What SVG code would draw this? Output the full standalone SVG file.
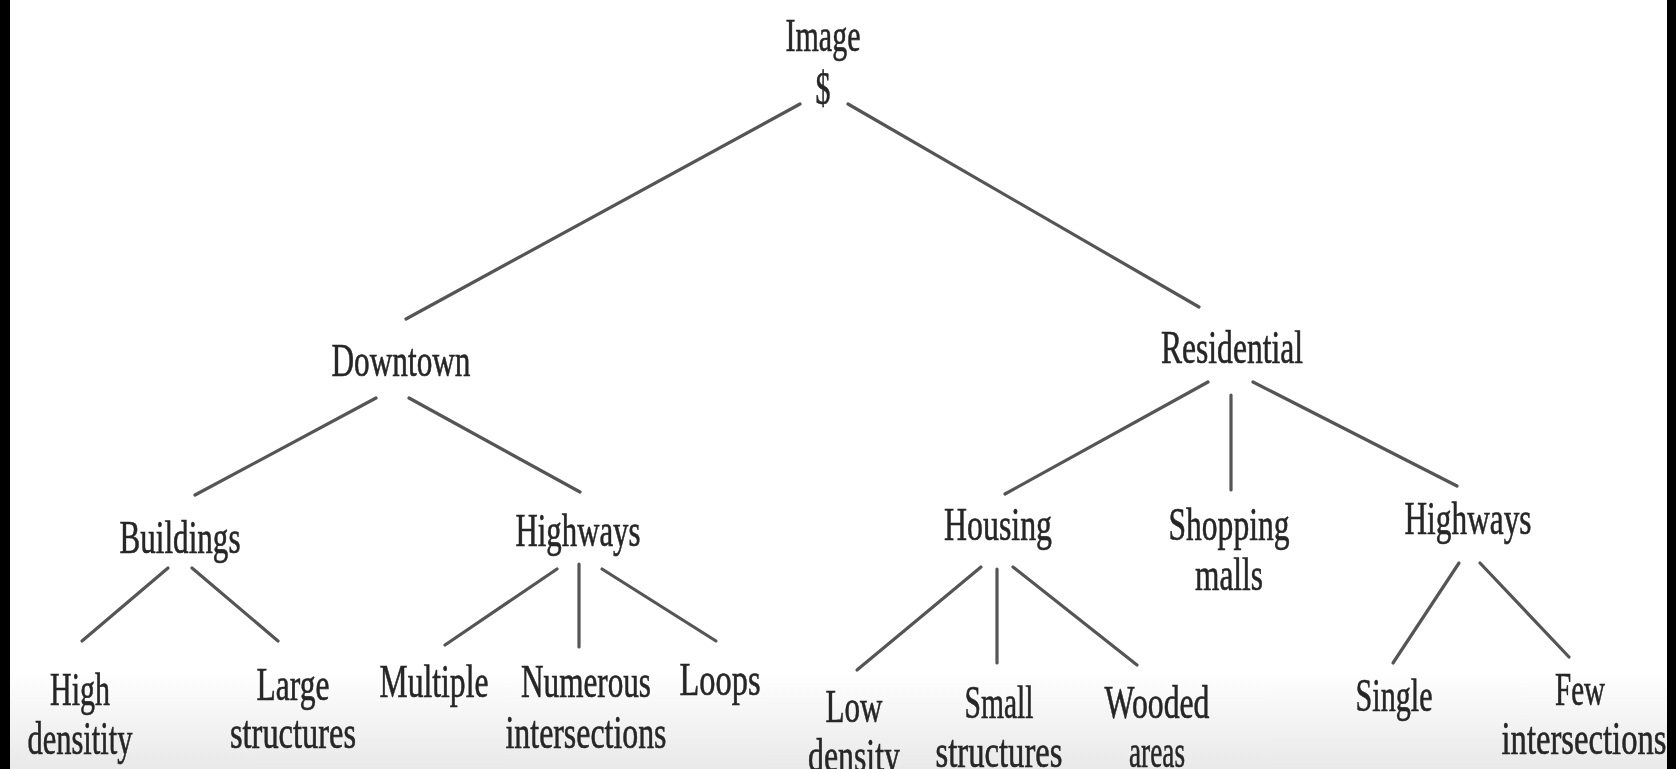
<svg xmlns="http://www.w3.org/2000/svg" width="1676" height="769" viewBox="0 0 1676 769">
<style>
.t{font-family:"Liberation Serif","Times New Roman",serif;font-size:46px;fill:#262626;stroke:#262626;stroke-width:0.6px;text-anchor:middle}
.c line{stroke:#555555;stroke-width:3.2;stroke-linecap:round}
</style>
<defs>
<linearGradient id="fade" x1="0" y1="0" x2="0" y2="1">
<stop offset="0" stop-color="#e9e9e9" stop-opacity="0"/>
<stop offset="1" stop-color="#e9e9e9" stop-opacity="1"/>
</linearGradient>
<filter id="soft" x="-5%" y="-5%" width="110%" height="110%"><feGaussianBlur stdDeviation="0.6"/></filter>
</defs>
<rect width="1676" height="769" fill="#ffffff"/>
<rect x="0" y="670" width="1676" height="99" fill="url(#fade)"/>
<g filter="url(#soft)">
<g id="connectors" class="c">
<line x1="800" y1="104" x2="406" y2="319"/>
<line x1="848" y1="104" x2="1199" y2="307"/>
<line x1="376" y1="398" x2="195" y2="495"/>
<line x1="409" y1="398" x2="580" y2="492"/>
<line x1="168" y1="568" x2="82" y2="641"/>
<line x1="192" y1="568" x2="278" y2="641"/>
<line x1="557" y1="569" x2="445" y2="645"/>
<line x1="579" y1="564" x2="579" y2="647"/>
<line x1="602" y1="569" x2="716" y2="641"/>
<line x1="1208" y1="382" x2="1005" y2="494"/>
<line x1="1231" y1="395" x2="1231" y2="490"/>
<line x1="1253" y1="382" x2="1457" y2="486"/>
<line x1="981" y1="567" x2="857" y2="670"/>
<line x1="997" y1="569" x2="997" y2="663"/>
<line x1="1013" y1="567" x2="1137" y2="665"/>
<line x1="1459" y1="563" x2="1393" y2="663"/>
<line x1="1480" y1="563" x2="1569" y2="657"/>
</g>
<g id="n-image"><text class="t" x="823" y="51" textLength="75" lengthAdjust="spacingAndGlyphs">Image</text><text class="t" x="823" y="104" textLength="15" lengthAdjust="spacingAndGlyphs">$</text></g>
<g id="n-downtown"><text class="t" x="401" y="376" textLength="139" lengthAdjust="spacingAndGlyphs">Downtown</text></g>
<g id="n-residential"><text class="t" x="1232" y="363" textLength="142" lengthAdjust="spacingAndGlyphs">Residential</text></g>
<g id="n-buildings"><text class="t" x="180" y="553" textLength="121" lengthAdjust="spacingAndGlyphs">Buildings</text></g>
<g id="n-highways-d"><text class="t" x="578" y="546" textLength="125" lengthAdjust="spacingAndGlyphs">Highways</text></g>
<g id="n-high-density"><text class="t" x="80" y="705" textLength="60" lengthAdjust="spacingAndGlyphs">High</text><text class="t" x="80" y="754" textLength="105" lengthAdjust="spacingAndGlyphs">densitity</text></g>
<g id="n-large-structures"><text class="t" x="293" y="700" textLength="73" lengthAdjust="spacingAndGlyphs">Large</text><text class="t" x="293" y="748" textLength="126" lengthAdjust="spacingAndGlyphs">structures</text></g>
<g id="n-multiple"><text class="t" x="434" y="697" textLength="109" lengthAdjust="spacingAndGlyphs">Multiple</text></g>
<g id="n-numerous"><text class="t" x="586" y="697" textLength="130" lengthAdjust="spacingAndGlyphs">Numerous</text><text class="t" x="586" y="748" textLength="161" lengthAdjust="spacingAndGlyphs">intersections</text></g>
<g id="n-loops"><text class="t" x="720" y="695" textLength="81" lengthAdjust="spacingAndGlyphs">Loops</text></g>
<g id="n-housing"><text class="t" x="998" y="540" textLength="108" lengthAdjust="spacingAndGlyphs">Housing</text></g>
<g id="n-shopping"><text class="t" x="1229" y="540" textLength="121" lengthAdjust="spacingAndGlyphs">Shopping</text><text class="t" x="1229" y="590" textLength="68" lengthAdjust="spacingAndGlyphs">malls</text></g>
<g id="n-highways-r"><text class="t" x="1468" y="534" textLength="127" lengthAdjust="spacingAndGlyphs">Highways</text></g>
<g id="n-low-density"><text class="t" x="854" y="722" textLength="57" lengthAdjust="spacingAndGlyphs">Low</text><text class="t" x="854" y="771" textLength="92" lengthAdjust="spacingAndGlyphs">density</text></g>
<g id="n-small-structures"><text class="t" x="999" y="718" textLength="69" lengthAdjust="spacingAndGlyphs">Small</text><text class="t" x="999" y="767" textLength="127" lengthAdjust="spacingAndGlyphs">structures</text></g>
<g id="n-wooded-areas"><text class="t" x="1157" y="718" textLength="105" lengthAdjust="spacingAndGlyphs">Wooded</text><text class="t" x="1157" y="767" textLength="56" lengthAdjust="spacingAndGlyphs">areas</text></g>
<g id="n-single"><text class="t" x="1394" y="711" textLength="77" lengthAdjust="spacingAndGlyphs">Single</text></g>
<g id="n-few"><text class="t" x="1580" y="705" textLength="50" lengthAdjust="spacingAndGlyphs">Few</text><text class="t" x="1584" y="754" textLength="165" lengthAdjust="spacingAndGlyphs">intersections</text></g>
</g>
<rect x="0" y="0" width="10" height="769" fill="#000"/>
<rect x="1667" y="0" width="9" height="769" fill="#000"/>
</svg>
